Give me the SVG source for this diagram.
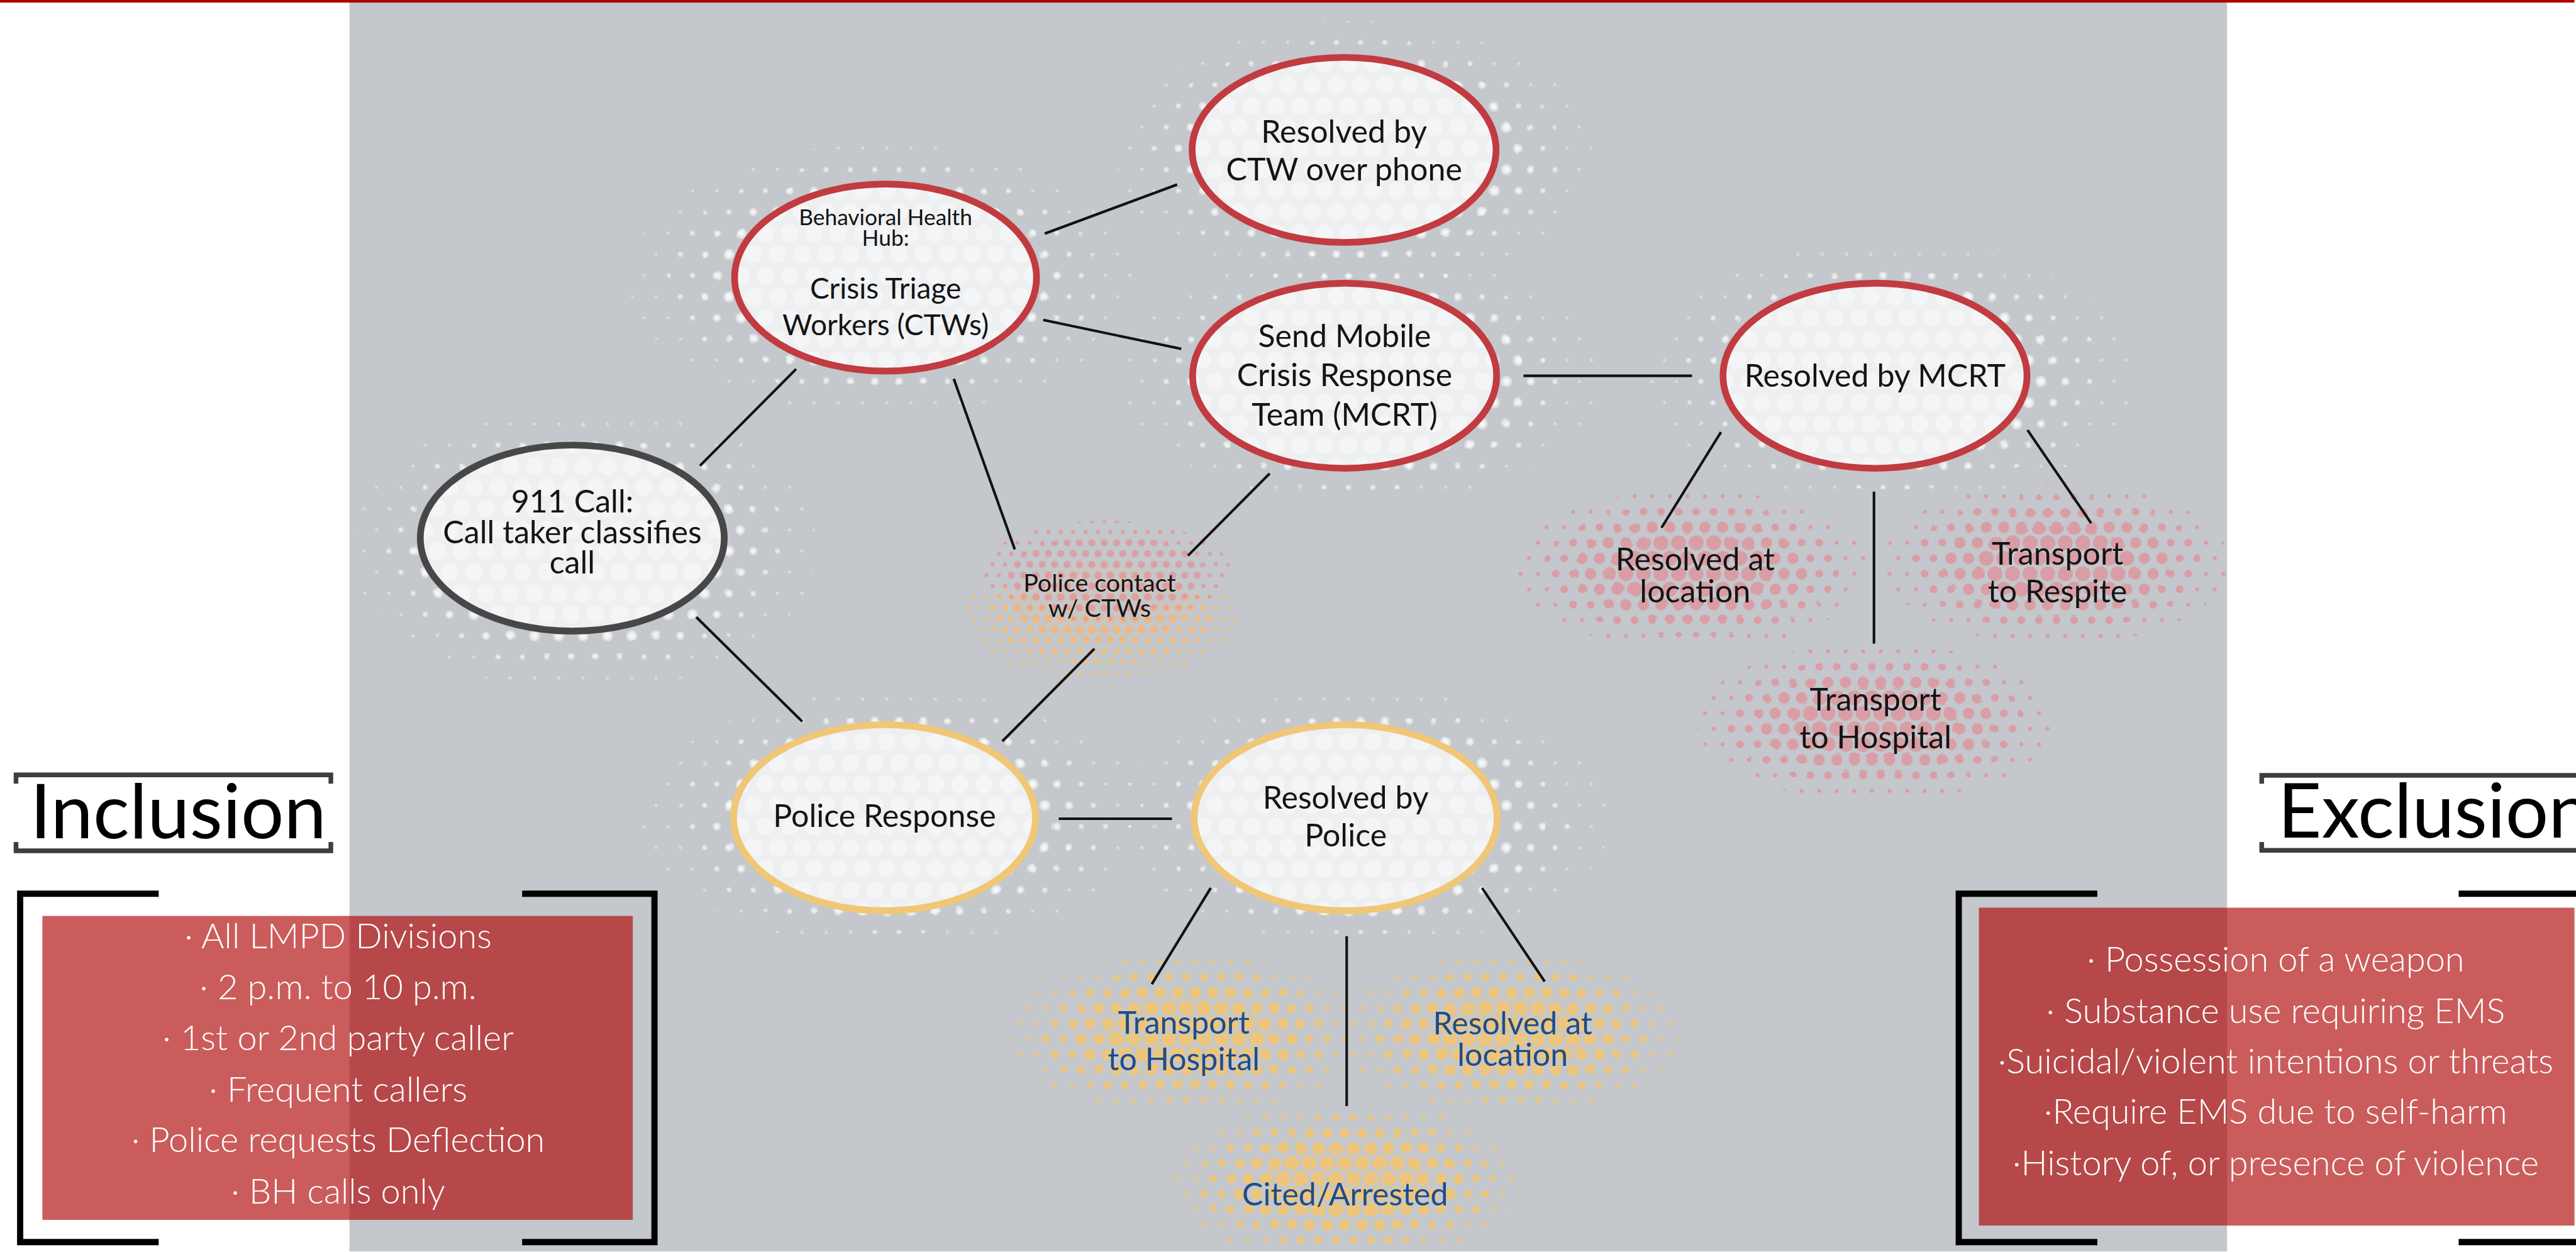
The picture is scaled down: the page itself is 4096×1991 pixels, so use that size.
<svg xmlns="http://www.w3.org/2000/svg" width="4096" height="1991" viewBox="0 0 4096 1991">
<style>
.lbl{font-family:Lato,"Liberation Sans",sans-serif;font-size:61px;text-anchor:middle;fill:#141414}
.sm{font-size:43px}
.mid{font-size:56px}
.pc{font-size:48px}
.blue{fill:#1e4c8a}
.title{font-family:Lato,"Liberation Sans",sans-serif;font-size:147px;fill:#000}
.list{font-family:Lato,"Liberation Sans",sans-serif;font-size:68px;font-weight:300;fill:#fff;text-anchor:middle}
.conn line{stroke:#111;stroke-width:5}
.node ellipse.shape{stroke-width:13}
.red{stroke:#c13b40}
.yel{stroke:#f0c776}
.drk{stroke:#474747}
.br{fill:none;stroke:#000;stroke-width:12}
.tb{fill:none;stroke:#3e3e3e;stroke-width:9}
.box{fill:#ad0000;fill-opacity:0.64}
</style>
<defs>
<pattern id="w1" width="47" height="82" patternUnits="userSpaceOnUse"><g fill="#fff" fill-opacity="0.4"><circle cx="0" cy="0" r="3"/><circle cx="47" cy="0" r="3"/><circle cx="0" cy="82" r="3"/><circle cx="47" cy="82" r="3"/><circle cx="23.5" cy="41" r="3"/></g></pattern>
<pattern id="w2" width="47" height="82" patternUnits="userSpaceOnUse"><g fill="#fff" fill-opacity="0.4"><circle cx="0" cy="0" r="5.5"/><circle cx="47" cy="0" r="5.5"/><circle cx="0" cy="82" r="5.5"/><circle cx="47" cy="82" r="5.5"/><circle cx="23.5" cy="41" r="5.5"/></g></pattern>
<pattern id="w3" width="47" height="82" patternUnits="userSpaceOnUse"><g fill="#fff" fill-opacity="0.4"><circle cx="0" cy="0" r="8"/><circle cx="47" cy="0" r="8"/><circle cx="0" cy="82" r="8"/><circle cx="47" cy="82" r="8"/><circle cx="23.5" cy="41" r="8"/></g></pattern>
<pattern id="w4" width="47" height="82" patternUnits="userSpaceOnUse"><g fill="#fff" fill-opacity="0.4"><circle cx="0" cy="0" r="11"/><circle cx="47" cy="0" r="11"/><circle cx="0" cy="82" r="11"/><circle cx="47" cy="82" r="11"/><circle cx="23.5" cy="41" r="11"/></g></pattern>
<pattern id="inner" width="47" height="82" patternUnits="userSpaceOnUse"><g fill="#fff" fill-opacity="0.38"><circle cx="0" cy="0" r="17"/><circle cx="47" cy="0" r="17"/><circle cx="0" cy="82" r="17"/><circle cx="47" cy="82" r="17"/><circle cx="23.5" cy="41" r="17"/></g></pattern>
<pattern id="p1" width="34" height="60" patternUnits="userSpaceOnUse"><g fill="#d99ea5"><circle cx="0" cy="0" r="4"/><circle cx="34" cy="0" r="4"/><circle cx="0" cy="60" r="4"/><circle cx="34" cy="60" r="4"/><circle cx="17" cy="30" r="4"/></g></pattern>
<pattern id="p2" width="34" height="60" patternUnits="userSpaceOnUse"><g fill="#d99ea5"><circle cx="0" cy="0" r="7.5"/><circle cx="34" cy="0" r="7.5"/><circle cx="0" cy="60" r="7.5"/><circle cx="34" cy="60" r="7.5"/><circle cx="17" cy="30" r="7.5"/></g></pattern>
<pattern id="p3" width="34" height="60" patternUnits="userSpaceOnUse"><g fill="#d99ea5"><circle cx="0" cy="0" r="11"/><circle cx="34" cy="0" r="11"/><circle cx="0" cy="60" r="11"/><circle cx="34" cy="60" r="11"/><circle cx="17" cy="30" r="11"/></g></pattern>
<pattern id="p4" width="34" height="60" patternUnits="userSpaceOnUse"><g fill="#d99ea5"><circle cx="0" cy="0" r="14.5"/><circle cx="34" cy="0" r="14.5"/><circle cx="0" cy="60" r="14.5"/><circle cx="34" cy="60" r="14.5"/><circle cx="17" cy="30" r="14.5"/></g></pattern>
<pattern id="y1" width="34" height="60" patternUnits="userSpaceOnUse"><g fill="#ecc67f"><circle cx="0" cy="0" r="4"/><circle cx="34" cy="0" r="4"/><circle cx="0" cy="60" r="4"/><circle cx="34" cy="60" r="4"/><circle cx="17" cy="30" r="4"/></g></pattern>
<pattern id="y2" width="34" height="60" patternUnits="userSpaceOnUse"><g fill="#ecc67f"><circle cx="0" cy="0" r="7.5"/><circle cx="34" cy="0" r="7.5"/><circle cx="0" cy="60" r="7.5"/><circle cx="34" cy="60" r="7.5"/><circle cx="17" cy="30" r="7.5"/></g></pattern>
<pattern id="y3" width="34" height="60" patternUnits="userSpaceOnUse"><g fill="#ecc67f"><circle cx="0" cy="0" r="11"/><circle cx="34" cy="0" r="11"/><circle cx="0" cy="60" r="11"/><circle cx="34" cy="60" r="11"/><circle cx="17" cy="30" r="11"/></g></pattern>
<pattern id="y4" width="34" height="60" patternUnits="userSpaceOnUse"><g fill="#ecc67f"><circle cx="0" cy="0" r="14.5"/><circle cx="34" cy="0" r="14.5"/><circle cx="0" cy="60" r="14.5"/><circle cx="34" cy="60" r="14.5"/><circle cx="17" cy="30" r="14.5"/></g></pattern>
<pattern id="o3" width="24" height="42" patternUnits="userSpaceOnUse"><g fill="#e9b98a"><circle cx="0" cy="0" r="8.5"/><circle cx="24" cy="0" r="8.5"/><circle cx="0" cy="42" r="8.5"/><circle cx="24" cy="42" r="8.5"/><circle cx="12" cy="21" r="8.5"/></g></pattern>
<pattern id="o2" width="24" height="42" patternUnits="userSpaceOnUse"><g fill="#ebbf85"><circle cx="0" cy="0" r="6"/><circle cx="24" cy="0" r="6"/><circle cx="0" cy="42" r="6"/><circle cx="24" cy="42" r="6"/><circle cx="12" cy="21" r="6"/></g></pattern>
<pattern id="o1" width="24" height="42" patternUnits="userSpaceOnUse"><g fill="#ecc382"><circle cx="0" cy="0" r="3.5"/><circle cx="24" cy="0" r="3.5"/><circle cx="0" cy="42" r="3.5"/><circle cx="24" cy="42" r="3.5"/><circle cx="12" cy="21" r="3.5"/></g></pattern>
<pattern id="q2" width="24" height="42" patternUnits="userSpaceOnUse"><g fill="#d9a0a6"><circle cx="0" cy="0" r="7"/><circle cx="24" cy="0" r="7"/><circle cx="0" cy="42" r="7"/><circle cx="24" cy="42" r="7"/><circle cx="12" cy="21" r="7"/></g></pattern>
<pattern id="q1" width="24" height="42" patternUnits="userSpaceOnUse"><g fill="#d9a0a6"><circle cx="0" cy="0" r="4"/><circle cx="24" cy="0" r="4"/><circle cx="0" cy="42" r="4"/><circle cx="24" cy="42" r="4"/><circle cx="12" cy="21" r="4"/></g></pattern>
</defs>
<g transform="scale(0.822)">
<rect x="0" y="0" width="4980" height="2421" fill="#fff"/>
<rect x="676" y="0" width="3632" height="2421" fill="#c4c7cb"/>

<g id="halos">
<g id="halo-ctw"><ellipse cx="2620" cy="300" rx="460" ry="260" fill="url(#w1)"/><ellipse cx="2620" cy="300" rx="400" ry="225" fill="url(#w2)"/><ellipse cx="2620" cy="300" rx="350" ry="200" fill="url(#w3)"/><ellipse cx="2620" cy="300" rx="318" ry="182" fill="url(#w4)"/></g>
<g id="halo-mcrt"><ellipse cx="2630" cy="730" rx="460" ry="245" fill="url(#w1)"/><ellipse cx="2630" cy="730" rx="400" ry="220" fill="url(#w2)"/><ellipse cx="2630" cy="730" rx="350" ry="200" fill="url(#w3)"/><ellipse cx="2630" cy="730" rx="318" ry="182" fill="url(#w4)"/></g>
<g id="halo-bhh"><ellipse cx="1707" cy="540" rx="490" ry="262" fill="url(#w1)"/><ellipse cx="1707" cy="540" rx="415" ry="230" fill="url(#w2)"/><ellipse cx="1707" cy="540" rx="355" ry="205" fill="url(#w3)"/><ellipse cx="1707" cy="540" rx="318" ry="188" fill="url(#w4)"/></g>
<g id="halo-rmcrt"><ellipse cx="3660" cy="725" rx="470" ry="255" fill="url(#w1)"/><ellipse cx="3660" cy="725" rx="405" ry="222" fill="url(#w2)"/><ellipse cx="3660" cy="725" rx="350" ry="200" fill="url(#w3)"/><ellipse cx="3650" cy="725" rx="318" ry="185" fill="url(#w4)"/></g>
<g id="halo-911"><ellipse cx="1130" cy="1060" rx="450" ry="278" fill="url(#w1)"/><ellipse cx="1130" cy="1060" rx="395" ry="238" fill="url(#w2)"/><ellipse cx="1130" cy="1060" rx="350" ry="212" fill="url(#w3)"/><ellipse cx="1120" cy="1055" rx="318" ry="195" fill="url(#w4)"/></g>
<g id="halo-pr"><ellipse cx="1730" cy="1584" rx="490" ry="250" fill="url(#w1)"/><ellipse cx="1730" cy="1584" rx="415" ry="222" fill="url(#w2)"/><ellipse cx="1730" cy="1584" rx="355" ry="200" fill="url(#w3)"/><ellipse cx="1720" cy="1584" rx="318" ry="190" fill="url(#w4)"/></g>
<g id="halo-rp"><ellipse cx="2640" cy="1584" rx="475" ry="250" fill="url(#w1)"/><ellipse cx="2640" cy="1584" rx="405" ry="222" fill="url(#w2)"/><ellipse cx="2640" cy="1584" rx="350" ry="200" fill="url(#w3)"/><ellipse cx="2620" cy="1584" rx="318" ry="190" fill="url(#w4)"/></g>

<g id="halo-ral"><ellipse cx="3271" cy="1102" rx="340" ry="155" fill="url(#p1)"/><ellipse cx="3271" cy="1102" rx="285" ry="128" fill="url(#p2)"/><ellipse cx="3271" cy="1102" rx="225" ry="100" fill="url(#p3)"/><ellipse cx="3271" cy="1102" rx="160" ry="70" fill="url(#p4)"/></g>
<g id="halo-rsp"><ellipse cx="3977" cy="1090" rx="335" ry="158" fill="url(#p1)"/><ellipse cx="3977" cy="1090" rx="280" ry="130" fill="url(#p2)"/><ellipse cx="3977" cy="1090" rx="220" ry="102" fill="url(#p3)"/><ellipse cx="3977" cy="1090" rx="155" ry="72" fill="url(#p4)"/></g>
<g id="halo-rhp"><ellipse cx="3627" cy="1397" rx="345" ry="153" fill="url(#p1)"/><ellipse cx="3627" cy="1397" rx="288" ry="126" fill="url(#p2)"/><ellipse cx="3627" cy="1397" rx="228" ry="98" fill="url(#p3)"/><ellipse cx="3627" cy="1397" rx="160" ry="68" fill="url(#p4)"/></g>
<g id="halo-yth"><ellipse cx="2296" cy="2001" rx="340" ry="156" fill="url(#y1)"/><ellipse cx="2296" cy="2001" rx="285" ry="128" fill="url(#y2)"/><ellipse cx="2296" cy="2001" rx="225" ry="100" fill="url(#y3)"/><ellipse cx="2296" cy="2001" rx="160" ry="70" fill="url(#y4)"/></g>
<g id="halo-yrl"><ellipse cx="2922" cy="2001" rx="325" ry="156" fill="url(#y1)"/><ellipse cx="2922" cy="2001" rx="272" ry="128" fill="url(#y2)"/><ellipse cx="2922" cy="2001" rx="215" ry="100" fill="url(#y3)"/><ellipse cx="2922" cy="2001" rx="152" ry="70" fill="url(#y4)"/></g>
<g id="halo-yca"><ellipse cx="2604" cy="2287" rx="340" ry="156" fill="url(#y1)"/><ellipse cx="2604" cy="2287" rx="285" ry="128" fill="url(#y2)"/><ellipse cx="2604" cy="2287" rx="225" ry="100" fill="url(#y3)"/><ellipse cx="2604" cy="2287" rx="160" ry="70" fill="url(#y4)"/></g>
<g id="halo-pc"><ellipse cx="2130" cy="1190" rx="265" ry="120" fill="url(#o1)"/><ellipse cx="2130" cy="1185" rx="220" ry="98" fill="url(#o2)"/><ellipse cx="2130" cy="1165" rx="175" ry="75" fill="url(#o3)"/><ellipse cx="2140" cy="1105" rx="240" ry="98" fill="url(#q1)"/><ellipse cx="2140" cy="1110" rx="190" ry="75" fill="url(#q2)"/></g>
</g>

<g id="connectors" class="conn">
<line x1="1354" y1="901" x2="1540" y2="714"/>
<line x1="1347" y1="1194" x2="1552" y2="1396"/>
<line x1="2021" y1="452" x2="2277" y2="357"/>
<line x1="2018" y1="619" x2="2285" y2="675"/>
<line x1="1845" y1="733" x2="1963" y2="1063"/>
<line x1="2456" y1="916" x2="2298" y2="1075"/>
<line x1="2117" y1="1255" x2="1939" y2="1434"/>
<line x1="2947" y1="727" x2="3273" y2="727"/>
<line x1="2048" y1="1584" x2="2267" y2="1584"/>
<line x1="3329" y1="836" x2="3214" y2="1021"/>
<line x1="3625" y1="951" x2="3625" y2="1245"/>
<line x1="3922" y1="832" x2="4045" y2="1012"/>
<line x1="2342" y1="1718" x2="2228" y2="1904"/>
<line x1="2605" y1="1811" x2="2605" y2="2140"/>
<line x1="2867" y1="1718" x2="2988" y2="1899"/>
</g>

<g id="node-911" class="node"><ellipse cx="1107" cy="1041" rx="294" ry="180" fill="#eeeff1"/><ellipse class="shape drk" cx="1107" cy="1041" rx="294" ry="180" fill="url(#inner)"/>
<text class="lbl"><tspan x="1107" y="991">911 Call:</tspan><tspan x="1107" y="1051">Call taker classifies</tspan><tspan x="1107" y="1109">call</tspan></text></g>

<g id="node-bhh" class="node"><ellipse cx="1713" cy="537" rx="292" ry="181" fill="#eeeff1"/><ellipse class="shape red" cx="1713" cy="537" rx="292" ry="181" fill="url(#inner)"/>
<text class="lbl sm"><tspan x="1713" y="435">Behavioral Health</tspan><tspan x="1713" y="476">Hub:</tspan></text>
<text class="lbl mid"><tspan x="1713" y="578">Crisis Triage</tspan><tspan x="1713" y="648">Workers (CTWs)</tspan></text></g>

<g id="node-ctw" class="node"><ellipse cx="2600" cy="290" rx="294" ry="179" fill="#eeeff1"/><ellipse class="shape red" cx="2600" cy="290" rx="294" ry="179" fill="url(#inner)"/>
<text class="lbl"><tspan x="2600" y="276">Resolved by</tspan><tspan x="2600" y="349">CTW over phone</tspan></text></g>

<g id="node-mcrt" class="node"><ellipse cx="2601" cy="727" rx="294" ry="179" fill="#eeeff1"/><ellipse class="shape red" cx="2601" cy="727" rx="294" ry="179" fill="url(#inner)"/>
<text class="lbl"><tspan x="2601" y="671">Send Mobile</tspan><tspan x="2601" y="747">Crisis Response</tspan><tspan x="2601" y="824">Team (MCRT)</tspan></text></g>

<g id="node-rmcrt" class="node"><ellipse cx="3627" cy="727" rx="294" ry="179" fill="#eeeff1"/><ellipse class="shape red" cx="3627" cy="727" rx="294" ry="179" fill="url(#inner)"/>
<text class="lbl"><tspan x="3627" y="748">Resolved by MCRT</tspan></text></g>

<g id="node-pr" class="node"><ellipse cx="1711" cy="1582" rx="292" ry="180" fill="#eeeff1"/><ellipse class="shape yel" cx="1711" cy="1582" rx="292" ry="180" fill="url(#inner)"/>
<text class="lbl"><tspan x="1711" y="1600">Police Response</tspan></text></g>

<g id="node-rp" class="node"><ellipse cx="2603" cy="1582" rx="293" ry="180" fill="#eeeff1"/><ellipse class="shape yel" cx="2603" cy="1582" rx="293" ry="180" fill="url(#inner)"/>
<text class="lbl"><tspan x="2603" y="1564">Resolved by</tspan><tspan x="2603" y="1637">Police</tspan></text></g>

<g id="node-pc"><text class="lbl pc"><tspan x="2127" y="1145">Police contact</tspan><tspan x="2127" y="1194">w/ CTWs</tspan></text></g>

<g id="node-ral"><text class="lbl"><tspan x="3279" y="1104">Resolved at</tspan><tspan x="3279" y="1165">location</tspan></text></g>
<g id="node-rsp"><text class="lbl"><tspan x="3980" y="1092">Transport</tspan><tspan x="3980" y="1165">to Respite</tspan></text></g>
<g id="node-rhp"><text class="lbl"><tspan x="3628" y="1375">Transport</tspan><tspan x="3628" y="1448">to Hospital</tspan></text></g>

<g id="node-pth"><text class="lbl blue"><tspan x="2290" y="2000">Transport</tspan><tspan x="2290" y="2071">to Hospital</tspan></text></g>
<g id="node-prl"><text class="lbl blue"><tspan x="2926" y="2001">Resolved at</tspan><tspan x="2926" y="2062">location</tspan></text></g>
<g id="node-pca"><text class="lbl blue"><tspan x="2602" y="2332">Cited/Arrested</tspan></text></g>

<g id="inclusion">
<path class="tb" d="M31,1516 V1499 H640 V1516 M31,1629 V1646 H640 V1629"/>
<text class="title" x="58" y="1622">Inclusion</text>
<rect class="box" x="82" y="1772" width="1142" height="588"/>
<path class="br" d="M307,1729 H39 V2403 H307 M1010,1729 H1266 V2403 H1010"/>
<text class="list"><tspan x="654" y="1834">· All LMPD Divisions</tspan><tspan x="654" y="1933">· 2 p.m. to 10 p.m.</tspan><tspan x="654" y="2032">· 1st or 2nd party caller</tspan><tspan x="654" y="2131">· Frequent callers</tspan><tspan x="654" y="2229">· Police requests Deflection</tspan><tspan x="654" y="2328">· BH calls only</tspan></text>
</g>

<g id="exclusion">
<path class="tb" d="M4375,1516 V1500 H4990 M4375,1629 V1645 H4990"/>
<text class="title" x="4406" y="1621">Exclusion</text>
<rect class="box" x="3828" y="1756" width="1152" height="615"/>
<path class="br" d="M4057,1729 H3789 V2403 H4057 M4756,1729 H4990 M4756,2403 H4990"/>
<text class="list"><tspan x="4402" y="1880">· Possession of a weapon</tspan><tspan x="4402" y="1979">· Substance use requiring EMS</tspan><tspan x="4402" y="2077">·Suicidal/violent intentions or threats</tspan><tspan x="4402" y="2174">·Require EMS due to self-harm</tspan><tspan x="4402" y="2274">·History of, or presence of violence</tspan></text>
</g>

<rect x="0" y="0" width="4980" height="5" fill="#b00000"/>
</g>
</svg>
